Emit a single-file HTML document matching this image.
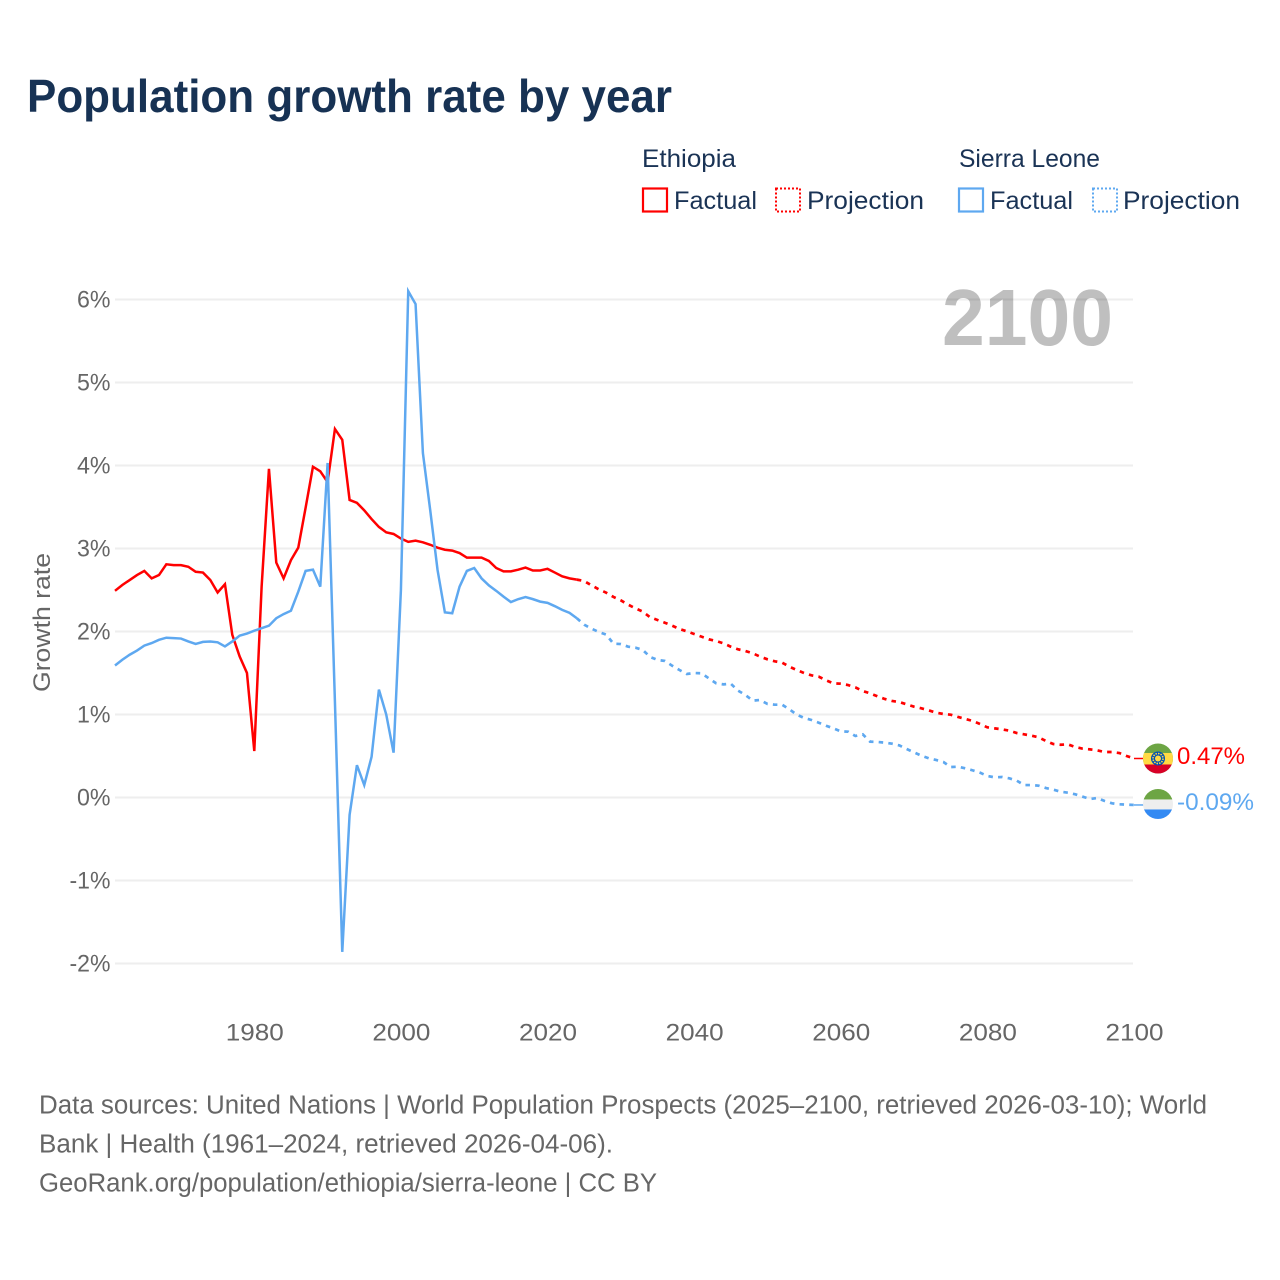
<!DOCTYPE html>
<html lang="en">
<head>
<meta charset="utf-8">
<title>Population growth rate by year</title>
<style>
  html, body { margin: 0; padding: 0; background: #fff; }
  svg { display: block; font-family: "Liberation Sans", sans-serif; }
</style>
</head>
<body>
<svg id="chart" xmlns="http://www.w3.org/2000/svg" width="1280" height="1280" viewBox="0 0 1280 1280">
  <rect width="1280" height="1280" fill="#ffffff"/>
  <text x="27" y="112" font-size="46" font-weight="700" fill="#173254" textLength="645" lengthAdjust="spacingAndGlyphs">Population growth rate by year</text>

  <g font-size="25" fill="#1a3355">
    <text x="642" y="167" textLength="94" lengthAdjust="spacingAndGlyphs">Ethiopia</text>
    <text x="959" y="167" textLength="141" lengthAdjust="spacingAndGlyphs">Sierra Leone</text>
    <rect x="643" y="188.5" width="24" height="23" fill="none" stroke="#ff0000" stroke-width="2.2"/>
    <text x="674" y="209" textLength="83" lengthAdjust="spacingAndGlyphs">Factual</text>
    <rect x="776" y="188.5" width="24" height="23" fill="none" stroke="#ff0000" stroke-width="2" stroke-dasharray="2 2"/>
    <text x="807" y="209" textLength="117" lengthAdjust="spacingAndGlyphs">Projection</text>
    <rect x="959" y="188.5" width="24" height="23" fill="none" stroke="#5ea8f0" stroke-width="2.2"/>
    <text x="990" y="209" textLength="83" lengthAdjust="spacingAndGlyphs">Factual</text>
    <rect x="1093" y="188.5" width="24" height="23" fill="none" stroke="#5ea8f0" stroke-width="2" stroke-dasharray="2 2"/>
    <text x="1123" y="209" textLength="117" lengthAdjust="spacingAndGlyphs">Projection</text>
  </g>

  <g id="grid"></g>
  <g id="yticks"></g>
  <g id="xticks"></g>
  <text transform="translate(50,622.5) rotate(-90)" text-anchor="middle" font-size="24" fill="#666666" textLength="139" lengthAdjust="spacingAndGlyphs">Growth rate</text>

  <text x="942" y="345" font-size="80" font-weight="700" fill="#000000" fill-opacity="0.25" textLength="171" lengthAdjust="spacingAndGlyphs">2100</text>

  <g id="series"></g>

  <defs>
    <clipPath id="flag-clip"><circle cx="0" cy="0" r="15"/></clipPath>
  </defs>
  <g id="flag-ethiopia">
    <g clip-path="url(#flag-clip)">
      <rect x="-15" y="-15" width="30" height="30" fill="#6da544"/>
      <rect x="-15" y="-5.5" width="30" height="11.5" fill="#ffda44"/>
      <rect x="-15" y="6" width="30" height="9" fill="#d80027"/>
      <circle cx="0" cy="0" r="7" fill="#0052b4"/>
      <circle cx="0" cy="0" r="3" fill="#ffda44"/>
      <circle cx="0" cy="0" r="5" fill="none" stroke="#ffda44" stroke-width="1.6" stroke-dasharray="1.5 1.1"/>
    </g>
  </g>
  <g id="flag-sierra">
    <g clip-path="url(#flag-clip)">
      <rect x="-15" y="-15" width="30" height="10.5" fill="#6da544"/>
      <rect x="-15" y="-4.5" width="30" height="10" fill="#eeeeee"/>
      <rect x="-15" y="5.5" width="30" height="9.5" fill="#338af3"/>
    </g>
  </g>
  <g id="end-labels"></g>

  <g font-size="25.5" fill="#666666">
    <text x="39" y="1113.5" textLength="1168" lengthAdjust="spacingAndGlyphs">Data sources: United Nations | World Population Prospects (2025–2100, retrieved 2026-03-10); World</text>
    <text x="39" y="1152.5" textLength="574" lengthAdjust="spacingAndGlyphs">Bank | Health (1961–2024, retrieved 2026-04-06).</text>
    <text x="39" y="1191.5" textLength="618" lengthAdjust="spacingAndGlyphs">GeoRank.org/population/ethiopia/sierra-leone | CC BY</text>
  </g>
</svg>

<script>
// Chart data (percent per year)
const factualStartYear = 1961;
const projectionStartYear = 2025;
const xTickYears = [1980, 2000, 2020, 2040, 2060, 2080, 2100];
const yTickValues = [6, 5, 4, 3, 2, 1, 0, -1, -2];
const yTickLabels = ["6%", "5%", "4%", "3%", "2%", "1%", "0%", "-1%", "-2%"];

const ethiopiaFactual = [
  2.49, 2.56, 2.62, 2.68, 2.73, 2.64, 2.68, 2.81, 2.80, 2.80,
  2.78, 2.72, 2.71, 2.62, 2.47, 2.57, 1.96, 1.70, 1.50, 0.56,
  2.54, 3.96, 2.83, 2.64, 2.86, 3.01, 3.49, 3.985, 3.93, 3.80,
  4.44, 4.31, 3.585, 3.55, 3.46, 3.355, 3.26, 3.195, 3.175, 3.12,
  3.08, 3.095, 3.075, 3.045, 3.01, 2.985, 2.975, 2.945, 2.89, 2.89,
  2.89, 2.85, 2.765, 2.725, 2.725, 2.745, 2.77, 2.735, 2.735, 2.755,
  2.71, 2.665, 2.64, 2.625
];
const sierraFactual = [
  1.59, 1.66, 1.72, 1.77, 1.83, 1.86, 1.90, 1.925, 1.92, 1.915,
  1.88, 1.85, 1.875, 1.88, 1.87, 1.82, 1.88, 1.95, 1.975, 2.01,
  2.04, 2.07, 2.16, 2.21, 2.25, 2.48, 2.73, 2.745, 2.54, 4.03,
  1.15, -1.86, -0.21, 0.39, 0.15, 0.49, 1.30, 1.00, 0.54, 2.50,
  6.10, 5.945, 4.15, 3.46, 2.74, 2.23, 2.22, 2.54, 2.73, 2.765,
  2.64, 2.555, 2.49, 2.42, 2.355, 2.39, 2.415, 2.39, 2.36, 2.345,
  2.305, 2.26, 2.225, 2.16
];
const ethiopiaProjection = [
  2.608, 2.556, 2.508, 2.468, 2.416, 2.375, 2.323, 2.279, 2.239, 2.171,
  2.139, 2.106, 2.070, 2.030, 2.002, 1.970, 1.938, 1.906, 1.886, 1.857,
  1.817, 1.785, 1.765, 1.737, 1.697, 1.665, 1.641, 1.625, 1.576, 1.536,
  1.500, 1.472, 1.456, 1.412, 1.375, 1.371, 1.355, 1.327, 1.283, 1.255,
  1.219, 1.187, 1.163, 1.150, 1.122, 1.094, 1.074, 1.050, 1.022, 1.006,
  0.998, 0.970, 0.946, 0.922, 0.885, 0.845, 0.833, 0.821, 0.805, 0.777,
  0.761, 0.745, 0.725, 0.681, 0.644, 0.636, 0.640, 0.608, 0.588, 0.580,
  0.568, 0.548, 0.548, 0.536, 0.500, 0.47
];
const sierraProjection = [
  2.082, 2.034, 1.994, 1.962, 1.853, 1.849, 1.817, 1.805, 1.777, 1.693,
  1.657, 1.645, 1.588, 1.536, 1.488, 1.500, 1.496, 1.436, 1.376, 1.363,
  1.371, 1.287, 1.235, 1.167, 1.175, 1.127, 1.118, 1.118, 1.062, 0.998,
  0.958, 0.934, 0.901, 0.865, 0.833, 0.797, 0.793, 0.741, 0.761, 0.673,
  0.669, 0.661, 0.648, 0.628, 0.584, 0.544, 0.504, 0.472, 0.452, 0.428,
  0.367, 0.371, 0.351, 0.327, 0.299, 0.259, 0.243, 0.247, 0.231, 0.203,
  0.150, 0.150, 0.142, 0.114, 0.094, 0.070, 0.058, 0.038, 0.010, -0.018,
  -0.006, -0.042, -0.070, -0.082, -0.086, -0.09
];
const ethiopiaEndLabel = "0.47%";
const sierraEndLabel = "-0.09%";

// Axis functions
function xScale(year) { return 115 + (year - 1961) * (1134 - 115) / (2100 - 1961); }
function yScale(value) { return 797.5 - value * 83; }

const NS = "http://www.w3.org/2000/svg";
function make(tag, attrs, parent) {
  const el = document.createElementNS(NS, tag);
  for (const k in attrs) el.setAttribute(k, attrs[k]);
  parent.appendChild(el);
  return el;
}

const gridGroup = document.getElementById("grid");
const yTickGroup = document.getElementById("yticks");
const xTickGroup = document.getElementById("xticks");
const seriesGroup = document.getElementById("series");
const endGroup = document.getElementById("end-labels");

yTickValues.forEach(function (v, i) {
  const line = make("line", { x1: 115, x2: 1133, y1: yScale(v), y2: yScale(v), stroke: "#eeeeee", "stroke-width": 2 }, gridGroup);
  
  
  const label = make("text", { x: 110.5, y: yScale(v) + 8, "text-anchor": "end", "font-size": 24, fill: "#666666", textLength: v < 0 ? 41 : 33.5, lengthAdjust: "spacingAndGlyphs" }, yTickGroup);
  label.textContent = yTickLabels[i];
  
  
});

xTickYears.forEach(function (yr) {
  const label = make("text", { x: xScale(yr) + 0.5, y: 1040.5, "text-anchor": "middle", "font-size": 24, fill: "#666666", textLength: 58, lengthAdjust: "spacingAndGlyphs" }, xTickGroup);
  label.textContent = String(yr);
  
  
});

function pathFrom(startYear, values) {
  return values.map(function (v, i) {
    return (i ? "L" : "M") + xScale(startYear + i).toFixed(2) + " " + yScale(v).toFixed(2);
  }).join(" ");
}

function drawFactual(values, color) {
  const p = make("path", { d: pathFrom(factualStartYear, values), fill: "none", stroke: color, "stroke-width": 2.5, "stroke-linejoin": "miter" }, seriesGroup);
  return p;
}
function drawProjection(lastFactual, values, color) {
  const all = [lastFactual].concat(values);
  const p = make("path", { d: pathFrom(projectionStartYear - 1, all), fill: "none", stroke: color, "stroke-width": 2.7, "stroke-dasharray": "4.5 5.2" }, seriesGroup);
  return p;
}
function drawConnector(value, color) {
  const y = yScale(value);
  const p = make("line", { x1: xScale(2100), x2: 1144, y1: y, y2: y, stroke: color, "stroke-width": 1.5 }, seriesGroup);
  return p;
}

const redColor = "#ff0000";
const blueColor = "#5ea8f0";

const ethFactualLine = drawFactual(ethiopiaFactual, redColor);


const ethProjectionLine = drawProjection(ethiopiaFactual[ethiopiaFactual.length - 1], ethiopiaProjection, redColor);


const sieFactualLine = drawFactual(sierraFactual, blueColor);


const sieProjectionLine = drawProjection(sierraFactual[sierraFactual.length - 1], sierraProjection, blueColor);



const ethLast = ethiopiaProjection[ethiopiaProjection.length - 1];
const sieLast = sierraProjection[sierraProjection.length - 1];

const ethConnector = drawConnector(ethLast, redColor);


const sieConnector = drawConnector(sieLast, blueColor);



document.getElementById("flag-ethiopia").setAttribute("transform", "translate(1158," + yScale(ethLast) + ")");
document.getElementById("flag-sierra").setAttribute("transform", "translate(1158," + (yScale(sieLast) - 1) + ")");

const ethLabel = make("text", { x: 1177, y: yScale(ethLast) + 5.5, "font-size": 24, fill: redColor, textLength: 68, lengthAdjust: "spacingAndGlyphs" }, endGroup);
ethLabel.textContent = ethiopiaEndLabel;


const sieLabel = make("text", { x: 1177, y: yScale(sieLast) + 5, "font-size": 24, fill: blueColor, textLength: 77, lengthAdjust: "spacingAndGlyphs" }, endGroup);
sieLabel.textContent = sierraEndLabel;


</script>
</body>
</html>
